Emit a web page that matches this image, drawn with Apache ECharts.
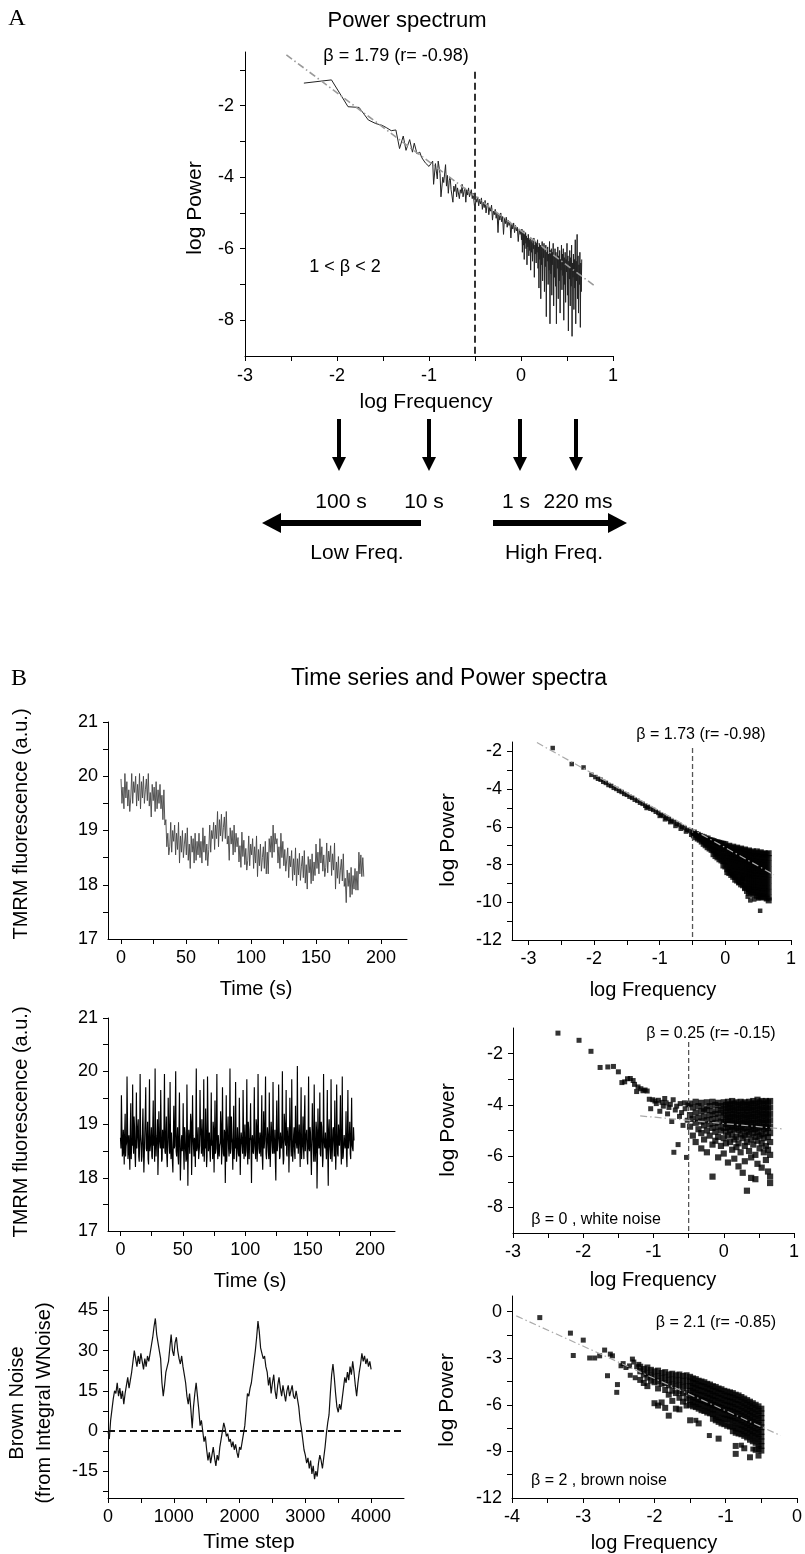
<!DOCTYPE html>
<html><head><meta charset="utf-8">
<script src="https://cdn.jsdelivr.net/npm/echarts@6/dist/echarts.min.js"></script>
<style>html,body{margin:0;padding:0;background:#fff}#c{width:805px;height:1554px}</style>
</head><body><div id="c"></div>
<script>
// ---------------- DATA ----------------
// Panel A: power spectrum [log frequency, log power]
const spectrumA = [[-2.36,-1.37],[-2.06,-1.28],[-1.88,-2.03],[-1.76,-2.05],[-1.66,-2.40],[-1.58,-2.50],[-1.51,-2.55],[-1.46,-2.62],[-1.41,-2.70],[-1.36,-2.68],[-1.32,-3.20],[-1.28,-2.85],[-1.25,-3.25],[-1.21,-2.95],[-1.18,-3.30],[-1.16,-3.05],[-1.13,-3.35],[-1.10,-3.30],[-1.08,-3.45],[-1.06,-3.50],[-1.04,-3.60],[-1.02,-3.62],[-1.00,-3.70],[-0.98,-3.75],[-0.96,-3.55],[-0.95,-4.20],[-0.93,-3.62],[-0.91,-4.05],[-0.90,-3.55],[-0.88,-3.90],[-0.87,-4.55],[-0.85,-4.00],[-0.84,-4.15],[-0.82,-3.65],[-0.81,-4.25],[-0.80,-3.95],[-0.79,-4.45],[-0.78,-4.10],[-0.77,-4.00],[-0.76,-4.35],[-0.74,-4.70],[-0.73,-4.25],[-0.72,-4.40],[-0.71,-4.20],[-0.70,-4.55],[-0.69,-4.30],[-0.68,-4.25],[-0.67,-4.60],[-0.66,-4.35],[-0.65,-4.45],[-0.64,-4.20],[-0.63,-4.55],[-0.62,-4.40],[-0.61,-4.30],[-0.60,-4.70],[-0.59,-4.35],[-0.58,-4.50],[-0.57,-4.30],[-0.56,-4.55],[-0.55,-4.45],[-0.54,-4.35],[-0.53,-4.60],[-0.52,-4.45],[-0.51,-4.50],[-0.50,-4.95],[-0.49,-4.60],[-0.48,-4.70],
[-0.47,-4.55],[-0.46,-4.80],[-0.45,-4.62],[-0.44,-4.75],[-0.43,-4.58],[-0.42,-4.90],[-0.41,-4.70],[-0.40,-4.85],[-0.39,-4.65],[-0.38,-5.00],[-0.37,-4.80],[-0.36,-4.72],[-0.35,-5.05],[-0.34,-4.85],[-0.33,-4.95],[-0.32,-4.78],[-0.31,-5.20],[-0.30,-4.95],[-0.29,-5.05],[-0.28,-4.90],[-0.27,-5.15],[-0.26,-5.00],[-0.25,-5.55],[-0.24,-5.05],[-0.23,-5.20],[-0.22,-5.00],[-0.21,-5.25],[-0.20,-5.10],[-0.19,-5.60],[-0.18,-5.15],[-0.17,-5.30],[-0.16,-5.12],[-0.15,-5.40],[-0.14,-5.20],[-0.13,-5.35],[-0.12,-5.25],[-0.11,-5.70],[-0.10,-5.30],[-0.09,-5.45],[-0.08,-5.28],[-0.07,-5.55],[-0.06,-5.35],[-0.05,-5.50],[-0.04,-5.40],[-0.03,-5.80],[-0.02,-5.45],[-0.01,-5.60],[0.00,-5.50],
[0.005,-5.75],[0.010,-5.45],[0.015,-6.10],[0.020,-5.55],[0.025,-5.90],[0.030,-5.50],[0.035,-6.30],[0.040,-5.60],[0.045,-5.85],[0.050,-5.55],[0.055,-6.00],[0.060,-5.65],[0.065,-6.45],[0.070,-5.70],[0.075,-5.95],[0.080,-5.60],[0.085,-6.20],[0.090,-5.75],[0.095,-6.05],[0.100,-5.70],[0.105,-6.60],[0.110,-5.80],[0.115,-6.10],[0.120,-5.75],[0.125,-6.35],[0.130,-5.85],[0.135,-6.00],[0.140,-5.70],[0.145,-6.80],[0.150,-5.90],[0.155,-6.15],[0.160,-5.80],[0.165,-6.40],[0.170,-5.85],[0.175,-6.10],[0.180,-5.75],[0.185,-6.55],[0.190,-5.95],[0.195,-7.10],[0.200,-5.85],[0.205,-6.30],[0.210,-5.90],[0.215,-7.40],[0.220,-5.95],[0.225,-6.45],[0.230,-5.80],[0.235,-6.90],[0.240,-6.00],[0.245,-6.25],[0.250,-5.85],[0.255,-7.20],[0.260,-6.05],[0.265,-6.50],[0.270,-5.90],[0.275,-7.90],[0.280,-6.10],[0.285,-6.35],[0.290,-5.95],[0.295,-7.00],[0.300,-6.15],[0.305,-6.60],[0.310,-5.80],[0.315,-8.10],[0.320,-6.05],[0.325,-6.70],[0.330,-6.00],[0.335,-7.30],[0.340,-6.10],[0.345,-6.45],[0.350,-5.85],[0.355,-7.60],[0.360,-6.20],[0.365,-6.80],[0.370,-6.00],[0.375,-7.05],[0.380,-6.10],[0.385,-8.10],[0.390,-6.25],[0.395,-6.55],[0.400,-5.95],[0.405,-7.40],[0.410,-6.20],[0.415,-6.90],[0.420,-6.05],[0.425,-7.80],[0.430,-6.30],[0.435,-6.60],[0.440,-5.90],[0.445,-7.15],[0.450,-6.15],[0.455,-6.75],[0.460,-6.00],[0.465,-8.00],[0.470,-6.25],[0.475,-7.00],[0.480,-6.10],[0.485,-7.50],[0.490,-6.30],[0.495,-6.65],[0.500,-5.85],[0.505,-7.30],[0.510,-6.20],[0.515,-8.30],[0.520,-6.35],[0.525,-6.85],[0.530,-6.05],[0.535,-7.60],[0.540,-6.25],[0.545,-7.05],[0.550,-5.90],[0.555,-8.45],[0.560,-6.40],[0.565,-6.80],[0.570,-6.15],[0.575,-7.70],[0.580,-6.30],[0.585,-7.10],[0.590,-5.75],[0.595,-8.10],[0.600,-6.35],[0.605,-6.90],[0.610,-5.60],[0.615,-7.40],[0.620,-6.20],[0.625,-7.80],[0.630,-6.45],[0.635,-7.00],[0.640,-6.10],[0.645,-8.20],[0.650,-6.40],[0.655,-7.20],[0.660,-6.30]];
const fitA = [[-2.55,-0.58],[0.79,-7.02]];
const cutA = [[-0.5,-1.05],[-0.5,-9]];

// Panel B, row 1: TMRM time series (one sample every 0.75 s) and its spectrum
const tmrmStepS = 0.75;
const tmrm1 = [19.95,19.50,19.80,19.40,20.05,19.60,19.90,19.45,19.75,19.35,19.60,20.05,19.50,19.90,19.70,20.00,19.45,19.85,19.55,20.05,19.40,19.90,19.60,20.00,19.50,19.75,19.95,19.55,20.05,19.45,19.70,19.25,19.85,19.55,19.80,19.35,19.90,19.40,19.75,19.50,19.85,19.40,19.65,19.20,19.75,19.10,19.20,18.70,18.95,18.55,18.70,19.15,18.60,19.00,18.80,19.10,18.55,18.95,18.65,19.15,18.40,18.90,18.60,19.00,18.50,18.75,18.95,18.55,19.05,18.45,18.75,18.30,18.90,18.60,18.85,18.40,18.95,18.45,18.80,18.55,18.95,18.50,18.80,18.40,19.05,18.60,18.90,18.45,18.75,18.35,18.65,19.10,18.60,19.00,18.85,19.15,18.65,19.10,18.85,19.35,18.70,19.20,18.90,19.30,18.80,19.05,19.25,18.85,19.35,18.75,18.90,18.45,19.05,18.75,19.00,18.55,19.10,18.60,18.95,18.70,18.87,18.42,18.72,18.32,18.97,18.52,18.82,18.37,18.67,18.27,18.45,18.90,18.35,18.75,18.55,18.85,18.30,18.70,18.40,18.90,18.15,18.65,18.35,18.75,18.25,18.50,18.70,18.30,18.80,18.20,18.60,18.20,18.85,18.60,18.90,18.50,19.10,18.60,18.95,18.75,18.85,18.40,18.70,18.30,18.95,18.50,18.80,18.35,18.65,18.25,18.23,18.68,18.13,18.53,18.33,18.63,18.08,18.48,18.18,18.68,17.98,18.48,18.18,18.58,18.08,18.33,18.53,18.13,18.63,18.03,18.37,17.92,18.52,18.22,18.47,18.02,18.57,18.07,18.42,18.17,18.75,18.30,18.60,18.20,18.85,18.40,18.70,18.25,18.55,18.15,18.32,18.77,18.22,18.62,18.42,18.72,18.17,18.57,18.27,18.77,17.92,18.42,18.12,18.52,18.02,18.27,18.47,18.07,18.57,17.97,18.12,17.67,18.27,17.97,18.22,17.77,18.32,17.82,18.17,17.92,18.30,17.90,18.25,17.90,18.60,18.20,18.55,18.15,18.50,18.15];
const specB2Pts = [[-2.63,-1.82],[-2.34,-2.67],[-2.16,-2.85],[-2.04,-3.24],[-1.98,-3.36],[-1.94,-3.45],[-1.90,-3.50],[-1.86,-3.61],[-1.82,-3.67],[-1.78,-3.78],[-1.74,-3.83],[-1.70,-3.93],[-1.66,-3.99],[-1.62,-4.09],[-1.58,-4.15],[-1.54,-4.25],[-1.50,-4.30],[-1.46,-4.40],[-1.42,-4.46],[-1.38,-4.56],[-1.34,-4.62],[-1.30,-4.72],[-1.26,-4.78],[-1.22,-4.88],[-1.18,-4.94],[-1.14,-5.04],[-1.10,-5.10],[-1.06,-5.20],[-1.02,-5.26],[-0.98,-5.36],[-0.94,-5.42],[-0.90,-5.52],[-0.86,-5.58],[-0.82,-5.68],[-0.78,-5.74],[-0.74,-5.84],[-0.70,-5.90],[-0.66,-6.00],[-0.62,-6.06],[-0.58,-6.16],[-0.54,-6.22],[-0.50,-6.30],[-1.20,-5.00],[-1.00,-5.42],[-0.92,-5.60],[-0.84,-5.75],[-0.76,-5.95],[-0.68,-6.10],[-0.60,-6.25],[-0.52,-6.42],[0.26,-8.75],[0.29,-9.25],[0.34,-9.70],[0.44,-9.85],[0.50,-9.80],[0.53,-10.45],[0.20,-8.95],[0.38,-9.90]];
// dense part, columns: [log frequency, log power values...]
const specB2Cols = [[-0.48,-6.30,-6.45],[-0.45,-6.38,-6.55],[-0.42,-6.42,-6.62],[-0.39,-6.48,-6.68],[-0.36,-6.52,-6.78],[-0.33,-6.55,-6.75,-6.90],[-0.30,-6.62,-6.82,-6.98],[-0.27,-6.62,-6.88,-7.08],[-0.24,-6.70,-6.92,-7.15],[-0.21,-6.72,-6.98,-7.22],[-0.18,-6.75,-7.00,-7.25,-7.45],[-0.15,-6.80,-7.05,-7.32,-7.55],[-0.12,-6.82,-7.08,-7.38,-7.62],[-0.09,-6.85,-7.12,-7.42,-7.72],[-0.06,-6.88,-7.18,-7.48,-7.78],[-0.03,-6.90,-7.20,-7.52,-7.82,-8.05],
[0.00,-6.92,-7.22,-7.52,-7.82,-8.10],[0.03,-7.05,-7.35,-7.65,-7.95,-8.25,-8.40],[0.06,-7.00,-7.25,-7.55,-7.85,-8.15,-8.45],[0.09,-7.12,-7.40,-7.70,-8.00,-8.30,-8.55],[0.12,-7.05,-7.30,-7.60,-7.90,-8.20,-8.50,-8.65],[0.15,-7.15,-7.45,-7.75,-8.05,-8.35,-8.65,-8.80],[0.18,-7.10,-7.35,-7.65,-7.95,-8.25,-8.55,-8.85],[0.21,-7.20,-7.50,-7.80,-8.10,-8.40,-8.70,-8.95],[0.24,-7.15,-7.40,-7.70,-8.00,-8.30,-8.60,-8.90,-9.05],[0.27,-7.25,-7.55,-7.85,-8.15,-8.45,-8.75,-9.10],[0.30,-7.20,-7.45,-7.75,-8.05,-8.35,-8.65,-8.95,-9.25],[0.33,-7.30,-7.60,-7.90,-8.20,-8.50,-8.80,-9.10,-9.40],[0.36,-7.25,-7.50,-7.80,-8.10,-8.40,-8.70,-9.00,-9.30,-9.50],[0.39,-7.35,-7.65,-7.95,-8.25,-8.55,-8.85,-9.15,-9.45],[0.42,-7.30,-7.55,-7.85,-8.15,-8.45,-8.75,-9.05,-9.35,-9.60],[0.45,-7.40,-7.70,-8.00,-8.30,-8.60,-8.90,-9.20,-9.50],[0.48,-7.30,-7.55,-7.85,-8.15,-8.45,-8.75,-9.05,-9.35,-9.65],[0.51,-7.40,-7.70,-8.00,-8.30,-8.60,-8.90,-9.20,-9.50,-9.70],[0.54,-7.35,-7.60,-7.90,-8.20,-8.50,-8.80,-9.10,-9.40,-9.70],[0.57,-7.45,-7.75,-8.05,-8.35,-8.65,-8.95,-9.25,-9.55,-9.75],[0.60,-7.40,-7.60,-7.90,-8.20,-8.50,-8.80,-9.10,-9.40,-9.70],[0.63,-7.45,-7.75,-8.05,-8.35,-8.65,-8.95,-9.25,-9.55,-9.80],[0.66,-7.40,-7.65,-7.95,-8.25,-8.55,-8.85,-9.15,-9.45,-9.75,-9.90]];
const fitB2 = [[-2.87,-1.53],[0.74,-8.54]];
const cutB2 = [[-0.5,-1.82],[-0.5,-12]];

// Panel B, row 2: white-noise TMRM series (samples every 0.75 s, plus the in-between samples) and its spectrum
const tmrm2 = [18.75,19.55,18.40,18.90,18.25,19.20,18.60,19.90,18.35,18.80,18.15,19.40,18.70,19.75,18.45,18.95,18.20,19.60,18.55,19.10,18.30,19.95,18.65,18.40,19.30,18.10,18.85,19.70,18.50,19.05,18.25,19.85,18.60,18.95,18.35,19.45,18.70,20.05,18.40,18.80,18.05,19.25,18.75,19.65,18.30,18.90,18.55,19.95,18.45,19.15,18.20,19.50,18.65,19.80,18.35,18.85,18.10,19.35,18.60,20.00,18.40,18.95,18.25,19.60,17.95,18.70,18.50,19.40,18.15,18.85,18.30,19.75,17.85,18.90,18.45,19.20,18.05,19.55,18.60,18.75,18.20,20.05,18.55,18.95,18.35,19.65,18.75,19.10,18.40,19.85,18.65,19.30,18.20,19.90,18.50,18.85,18.30,19.60,18.70,19.05,18.10,19.45,18.55,19.95,18.35,18.80,18.60,19.25,18.25,19.70,18.45,18.90,17.90,19.55,18.65,19.15,18.40,20.05,18.55,18.75,18.15,19.35,18.70,19.80,18.30,18.95,18.45,19.50,18.05,18.85,18.60,19.65,18.35,19.00,18.50,19.85,18.25,18.90,18.70,19.40,17.90,18.80,18.45,19.70,18.60,19.10,18.30,19.95,18.55,18.85,18.40,19.55,18.15,19.25,18.70,19.90,18.35,18.95,18.50,19.60,18.20,19.05,18.65,19.80,18.45,18.90,17.95,19.45,18.60,19.75,18.35,18.85,18.55,20.00,18.25,19.20,18.70,19.65,18.40,18.95,18.10,19.50,18.60,19.85,18.30,18.80,18.50,19.35,18.65,20.10,18.45,19.00,18.20,19.70,18.55,19.15,18.35,19.55,18.75,18.90,18.25,19.90,18.50,18.85,18.05,19.40,18.65,19.75,18.30,19.05,17.80,19.30,18.55,19.60,18.40,18.95,18.20,19.95,18.60,18.85,18.35,19.65,17.85,19.10,18.50,19.85,18.30,18.90,18.65,19.45,18.15,19.75,18.45,19.00,18.60,19.55,18.25,19.90,18.40,18.80,18.55,19.25,18.20,19.65,18.70,19.05,18.35,19.50,18.60,18.95];
const tmrm2Mid = [18.55,18.95,18.45,18.70,18.85,18.40,18.65,19.05,18.50,18.80,18.90,18.35,18.60,18.75,19.15,18.45,18.70,18.55,18.95,18.40,18.65,18.80,18.30,18.90,18.60,18.45,19.20,18.55,18.75,18.35,18.85,18.50,18.70,18.40,18.95,18.60,18.30,18.80,18.65,19.10,18.45,18.75,18.55,18.90,18.35,18.70,19.00,18.50,18.80,18.40,18.60,18.95,18.45,18.65,18.85,18.30,18.75,18.55,19.15,18.50,18.70,18.40,18.90,18.60,18.35,18.80,18.65,18.45,18.95,18.55,18.35,18.85,18.60,18.70,18.45,19.05,18.55,18.80,18.40,18.65,18.90,18.50,18.75,18.35,18.60,18.95,18.45,18.70,18.85,18.30,18.55,18.80,18.40,19.10,18.65,18.50,18.75,18.60,18.35,18.90,18.70,18.45,18.95,18.55,18.80,18.40,18.65,19.00,18.50,18.75,18.40,18.85,18.60,18.30,18.90,18.55,18.70,18.45,19.15,18.65,18.80,18.35,18.55,18.75,18.50,18.95,18.40,18.70,18.60,18.85,18.45,18.90,18.65,18.40,18.80,18.55,19.05,18.35,18.75,18.60,18.70,18.50,18.85,18.60,18.35,18.95,18.55,18.80,18.45,18.65,18.90,18.40,18.70,18.55,19.10,18.45,18.65,18.80,18.35,18.75,18.55,18.85,18.45,18.70,18.60,18.30,18.90,18.50,18.75,18.95,18.40,18.65,18.80,18.55,18.35,19.00,18.60,18.45,18.85,18.70,18.60,18.90,18.40,18.75,18.50,18.95,18.35,18.70,18.55,18.80,18.45,18.70,18.85,18.35,18.65,18.55,19.15,18.50,18.80,18.40,18.75,18.55,18.95,18.45,18.60,18.85,18.30,18.70,18.50,18.90,18.35,18.80,18.60,18.45,19.05,18.65,18.40,18.75,18.55,18.85,18.70,18.45,18.90,18.60,18.35,18.80,18.55,18.95,18.40,18.65,18.50,18.85,18.40,18.70,18.95,18.55,18.75,18.35,18.60,18.80,18.65,18.40,18.85,18.55,18.75,18.45,18.90,18.60,18.50,18.70];
const specB4Pts = [[-2.36,-1.20],[-2.06,-1.48],[-1.89,-1.91],[-1.76,-2.54],[-1.65,-2.52],[-1.57,-2.50],[-1.50,-2.71],[-1.45,-3.13],[-1.41,-3.10],[-1.37,-2.98],[-1.33,-2.97],[-1.29,-3.05],[-1.27,-3.20],[-1.24,-3.48],[-1.22,-3.30],[-1.18,-3.37],[-1.15,-3.45],[-1.12,-3.42],[-1.09,-3.46],[-1.06,-3.78],[-1.04,-4.15],[-1.01,-3.80],[-0.98,-3.85],[-0.96,-3.95],[-0.93,-3.82],[-0.91,-4.25],[-0.88,-3.90],[-0.86,-4.05],[-0.84,-3.75],[-0.82,-3.92],[-0.80,-4.35],[-0.78,-4.10],[-0.76,-3.98],[-0.74,-4.65],[-0.72,-3.80],[-0.71,-5.85],[-0.69,-4.20],[-0.67,-4.05],[-0.65,-5.55],[-0.63,-4.45],[-0.62,-3.95],[-0.60,-4.30],[-0.58,-4.80],[-0.56,-3.92],[-0.55,-4.15],[-0.53,-6.05],[-0.52,-4.60],[-0.51,-4.00]];
const specB4Cols = [[-0.48,-3.95,-4.40,-4.85],[-0.44,-4.10,-4.55,-5.20],[-0.40,-3.88,-4.30,-4.70,-5.45],[-0.36,-4.05,-4.50,-4.95],[-0.32,-3.92,-4.25,-4.65,-5.10,-5.70],[-0.28,-4.15,-4.45,-4.80,-5.35],[-0.24,-3.90,-4.20,-4.60,-5.00,-5.85],[-0.20,-4.05,-4.40,-4.75,-5.20],[-0.16,-3.88,-4.25,-4.55,-4.90,-5.55,-6.80],[-0.12,-4.00,-4.35,-4.70,-5.05,-5.40],[-0.08,-3.92,-4.20,-4.50,-4.85,-5.25,-6.05],[-0.04,-4.05,-4.30,-4.65,-5.00,-5.60],
[0.00,-3.90,-4.15,-4.40,-4.65,-4.90,-5.30,-5.90],[0.03,-4.00,-4.25,-4.50,-4.75,-5.05,-5.50],[0.06,-3.88,-4.12,-4.38,-4.62,-4.88,-5.20,-6.25],[0.09,-3.98,-4.22,-4.48,-4.72,-4.98,-5.45],[0.12,-3.85,-4.10,-4.35,-4.60,-4.85,-5.15,-5.75],[0.15,-3.95,-4.20,-4.45,-4.70,-4.95,-5.35,-6.10],[0.18,-3.90,-4.15,-4.40,-4.65,-4.90,-5.25,-5.65],[0.21,-4.00,-4.25,-4.50,-4.75,-5.00,-5.50,-6.40],[0.24,-3.88,-4.12,-4.38,-4.62,-4.88,-5.15,-5.85],[0.27,-3.95,-4.20,-4.45,-4.70,-4.95,-5.30,-6.65],[0.30,-3.90,-4.15,-4.40,-4.65,-4.90,-5.20,-5.60,-6.20],[0.33,-4.00,-4.25,-4.50,-4.75,-5.05,-5.45,-7.35],[0.36,-3.88,-4.12,-4.38,-4.62,-4.88,-5.15,-5.80],[0.39,-3.95,-4.20,-4.45,-4.70,-4.95,-5.35,-6.05,-6.85],[0.42,-3.85,-4.10,-4.35,-4.60,-4.85,-5.10,-5.55],[0.45,-3.95,-4.20,-4.45,-4.70,-4.95,-5.25,-5.95,-6.90],[0.48,-3.80,-4.05,-4.30,-4.55,-4.80,-5.05,-5.40,-6.30],[0.51,-3.90,-4.15,-4.40,-4.65,-4.90,-5.20,-5.70],[0.54,-3.85,-4.10,-4.35,-4.60,-4.85,-5.15,-5.50,-6.45],[0.57,-3.95,-4.20,-4.45,-4.70,-4.95,-5.30,-5.85],[0.60,-3.85,-4.10,-4.35,-4.60,-4.85,-5.10,-5.60,-6.15],[0.63,-3.90,-4.15,-4.40,-4.65,-4.90,-5.25,-5.75,-6.60],[0.66,-3.85,-4.10,-4.35,-4.60,-4.85,-5.10,-5.45,-5.95,-6.80,-7.05]];
const fitB4 = [[-1.19,-4.43],[0.85,-4.94]];
const cutB4 = [[-0.5,-1.55],[-0.5,-9]];

// Panel B, row 3: brown noise (one value every 20 time steps) and its spectrum
const brownStep = 20;
const brown = [0,-3,4,8,12,15,14,18,13,16,12,15,10,14,17,20,16,19,22,26,30,27,24,28,25,29,26,23,27,24,28,26,29,32,35,39,42,36,33,30,27,18,13,17,22,24,26,31,36,30,28,33,35,30,27,25,28,24,21,18,13,10,14,8,1,9,14,18,13,8,2,4,0,-4,-2,-7,-11,-8,-12,-9,-6,-10,-13,-9,-11,-6,-3,0,3,1,-2,-1,-4,-3,-6,-4,-7,-5,-8,-10,-6,-7,-4,-1,2,8,14,13,16,18,22,26,30,35,41,37,31,29,27,28,24,22,17,20,14,18,21,15,12,17,20,16,13,17,14,11,15,17,13,15,17,13,12,15,12,9,4,1,-3,-7,-9,-12,-10,-14,-11,-16,-13,-18,-15,-17,-12,-9,-11,-14,-10,-6,-1,3,6,14,21,25,20,14,9,7,10,8,12,16,20,18,22,19,24,21,26,22,17,13,18,22,25,29,26,28,25,27,24,26,23];
const zeroB5 = [[0,0],[4460,0]];
const specB6Pts = [[-3.61,-0.39],[-3.18,-1.39],[-3.14,-2.83],[-3.00,-1.84],[-2.91,-2.99],[-2.84,-2.99],[-2.77,-2.85],[-2.70,-2.48],[-2.66,-4.13],[-2.62,-2.74],[-2.59,-2.85],[-2.52,-4.70],[-2.53,-5.20],[-2.47,-3.49],[-2.44,-3.35],[-2.40,-3.60],[-2.35,-3.50],[-2.31,-3.06],[-2.29,-3.25],[-2.27,-4.26],[-2.34,-4.10],[-2.25,-3.55],[-2.22,-3.40],[-1.42,-7.00],[-1.23,-7.98],[-0.78,-8.60],[-0.62,-8.85]];
const specB6Cols = [[-2.20,-3.55,-3.85,-4.40],[-2.15,-3.70,-4.05,-4.60],[-2.10,-3.60,-3.95,-4.25,-4.80],[-2.05,-3.75,-4.10,-4.45],[-2.00,-3.85,-4.20,-4.55,-5.90],[-1.95,-3.80,-4.15,-4.50,-4.95,-6.05],[-1.90,-3.95,-4.30,-4.65,-5.85],[-1.85,-3.90,-4.25,-4.60,-5.05,-6.20],[-1.80,-4.05,-4.40,-4.75,-5.35,-6.70],[-1.75,-4.00,-4.35,-4.70,-5.10,-5.75],[-1.70,-4.10,-4.45,-4.80,-5.25,-6.25],[-1.65,-4.05,-4.40,-4.75,-5.15,-5.55,-6.30],[-1.60,-4.15,-4.50,-4.85,-5.25,-5.80],[-1.55,-4.10,-4.45,-4.80,-5.20,-5.60,-6.05],
[-1.50,-4.20,-4.50,-4.80,-5.10,-5.40,-5.70,-6.00,-7.00],[-1.46,-4.30,-4.60,-4.90,-5.20,-5.50,-5.80,-6.10],[-1.42,-4.35,-4.65,-4.95,-5.25,-5.55,-5.85,-6.15],[-1.38,-4.45,-4.75,-5.05,-5.35,-5.65,-5.95,-6.25,-7.20],[-1.34,-4.50,-4.80,-5.10,-5.40,-5.70,-6.00,-6.35],[-1.30,-4.55,-4.85,-5.15,-5.45,-5.75,-6.05,-6.40],[-1.26,-4.65,-4.95,-5.25,-5.55,-5.85,-6.15,-6.50],[-1.22,-4.70,-5.00,-5.30,-5.60,-5.90,-6.20,-6.55],[-1.18,-4.80,-5.10,-5.40,-5.70,-6.00,-6.30,-6.60,-6.90],[-1.14,-4.85,-5.15,-5.45,-5.75,-6.05,-6.35,-6.70,-7.00],[-1.10,-4.95,-5.25,-5.55,-5.85,-6.15,-6.45,-6.80,-7.10,-8.18],[-1.06,-5.00,-5.30,-5.60,-5.90,-6.20,-6.50,-6.85,-7.20],[-1.02,-5.10,-5.40,-5.70,-6.00,-6.30,-6.60,-6.90,-7.25],[-0.98,-5.15,-5.45,-5.75,-6.05,-6.35,-6.65,-6.95,-7.35],[-0.94,-5.20,-5.50,-5.80,-6.10,-6.40,-6.70,-7.00,-7.40],[-0.90,-5.25,-5.55,-5.85,-6.15,-6.45,-6.75,-7.05,-7.40,-7.70],[-0.86,-5.35,-5.65,-5.95,-6.25,-6.55,-6.85,-7.15,-7.50,-7.80,-8.65,-9.16],[-0.82,-5.40,-5.70,-6.00,-6.30,-6.60,-6.90,-7.20,-7.55,-7.85],[-0.78,-5.50,-5.80,-6.10,-6.40,-6.70,-7.00,-7.30,-7.60,-7.90],[-0.74,-5.60,-5.90,-6.20,-6.50,-6.80,-7.10,-7.40,-7.70,-8.00,-8.80],[-0.70,-5.70,-6.00,-6.30,-6.60,-6.90,-7.20,-7.50,-7.80,-8.10],[-0.66,-5.80,-6.10,-6.40,-6.70,-7.00,-7.30,-7.60,-7.90,-8.25,-9.38],[-0.62,-5.90,-6.20,-6.50,-6.80,-7.10,-7.40,-7.70,-8.00,-8.35],[-0.58,-6.00,-6.30,-6.60,-6.90,-7.20,-7.50,-7.80,-8.10,-8.45,-8.90],[-0.54,-6.10,-6.40,-6.70,-7.00,-7.30,-7.60,-7.90,-8.20,-8.55,-8.85,-9.27],[-0.50,-6.25,-6.55,-6.85,-7.15,-7.45,-7.75,-8.05,-8.35,-8.65,-8.95]];
const fitB6 = [[-3.94,-0.28],[-0.23,-7.98]];

// Tick positions and tick labels
const ticksA_x = [-3,-2.5,-2,-1.5,-1,-0.5,0,0.5,1], labelsA_x = [-3,-2,-1,0,1];
const ticksA_y = [-8,-7,-6,-5,-4,-3,-2,-1], labelsA_y = [-8,-6,-4,-2];
const ticksT_x = [0,25,50,75,100,125,150,175,200], labelsT_x = [0,50,100,150,200];
const ticksT_y = [17.5,18,18.5,19,19.5,20,20.5,21], labelsT_y = [17,18,19,20,21];
const ticksB2_x = [-3,-2.5,-2,-1.5,-1,-0.5,0,0.5,1], labelsB2_x = [-3,-2,-1,0,1];
const ticksB2_y = [-11,-10,-9,-8,-7,-6,-5,-4,-3,-2], labelsB2_y = [-12,-10,-8,-6,-4,-2];
const ticksB4_y = [-8,-7,-6,-5,-4,-3,-2], labelsB4_y = [-8,-6,-4,-2];
const ticksB5_x = [0,500,1000,1500,2000,2500,3000,3500,4000], labelsB5_x = [0,1000,2000,3000,4000];
const ticksB5_y = [-22.5,-15,-7.5,0,7.5,15,22.5,30,37.5,45], labelsB5_y = [-15,0,15,30,45];
const ticksB6_x = [-4,-3.5,-3,-2.5,-2,-1.5,-1,-0.5,0], labelsB6_x = [-4,-3,-2,-1,0];
const ticksB6_y = [-10.5,-9,-7.5,-6,-4.5,-3,-1.5,0], labelsB6_y = [-12,-9,-6,-3,0];

// ---------------- CHART ----------------
const FONT = '"Liberation Sans", Arial, sans-serif';
function cols(c){const o=[];c.forEach(r=>{for(let i=1;i<r.length;i++)o.push([r[0],r[i]]);});return o;}
function series(v, step){return v.map((y,i)=>[i*step,y]);}
function series2(v, mid, step){const o=[];v.forEach((y,i)=>{o.push([i*step,y]);if(i<mid.length)o.push([i*step+step/2,mid[i]]);});return o;}
function ax(gi, min, max, ticks, labels, margin){
  return {type:'value', gridIndex:gi, min:min, max:max, scale:false,
    axisLine:{show:true,onZero:false,lineStyle:{color:'#000',width:1}},
    axisTick:{show:true,customValues:ticks,length:5,lineStyle:{color:'#000',width:1}},
    axisLabel:{customValues:labels,fontSize:18,color:'#000',fontFamily:FONT,margin:margin,
      formatter:function(v){return String(v);}},
    splitLine:{show:false}};
}
const grids = [
  {left:245, top:52, width:368, height:304},
  {left:108, top:722, width:299, height:217},
  {left:512, top:742, width:279, height:198},
  {left:108, top:1018, width:287, height:213},
  {left:513, top:1028, width:281, height:205},
  {left:108, top:1297, width:296, height:201},
  {left:512, top:1296, width:286, height:202}
];
const xAxes = [
  ax(0,-3,1,ticksA_x,labelsA_x,11),
  ax(1,-10,220,ticksT_x,labelsT_x,10),
  ax(2,-3.25,1,ticksB2_x,labelsB2_x,10),
  ax(3,-10,220,ticksT_x,labelsT_x,10),
  ax(4,-3,1,ticksA_x,labelsA_x,10),
  ax(5,0,4500,ticksB5_x,labelsB5_x,10),
  ax(6,-4,0,ticksB6_x,labelsB6_x,10)
];
const yAxes = [
  ax(0,-9,-0.5,ticksA_y,labelsA_y,11),
  ax(1,17,21,ticksT_y,labelsT_y,10),
  ax(2,-12,-1.5,ticksB2_y,labelsB2_y,10),
  ax(3,17,21,ticksT_y,labelsT_y,10),
  ax(4,-9,-1,ticksB4_y,labelsB4_y,10),
  ax(5,-25,50,ticksB5_y,labelsB5_y,10),
  ax(6,-12,1,ticksB6_y,labelsB6_y,10)
];
function line(gi, data, color, width, type, z){
  return {type:'line', xAxisIndex:gi, yAxisIndex:gi, data:data, symbol:'none', showSymbol:false,
    lineStyle:{color:color,width:width,type:type||'solid'}, z:z||2, silent:true, clip:true};
}
function scat(gi, data, size){
  return {type:'scatter', xAxisIndex:gi, yAxisIndex:gi, data:data, symbol:'rect', symbolSize:size,
    itemStyle:{color:'#000'}, silent:true, z:2};
}
const dashDot = [7,3,1.5,3];
const seriesList = [
  line(0, spectrumA, '#222', 1),
  line(0, fitA, '#9a9a9a', 1.6, dashDot, 3),
  line(0, cutA, '#333', 2, [7,4], 4),
  line(1, series(tmrm1, tmrmStepS), '#444', 0.9),
  scat(2, specB2Pts, 4.5),
  scat(2, cols(specB2Cols), 6),
  line(2, fitB2, '#aaa', 1.2, dashDot, 3),
  line(2, cutB2, '#555', 1.3, [5,3], 4),
  line(3, series2(tmrm2, tmrm2Mid, tmrmStepS), '#000', 1.15),
  scat(4, specB4Pts, 5),
  scat(4, cols(specB4Cols), 6.2),
  line(4, fitB4, '#aaa', 1.2, dashDot, 3),
  line(4, cutB4, '#555', 1.3, [5,3], 4),
  line(5, series(brown, brownStep), '#111', 1.2),
  line(5, zeroB5, '#111', 1.8, [7,4], 3),
  scat(6, specB6Pts, 5),
  scat(6, cols(specB6Cols), 6),
  line(6, fitB6, '#aaa', 1.2, dashDot, 3)
];
function txt(x, y, s, size, opts){
  opts = opts || {};
  return {type:'text', x:x, y:y, rotation:opts.rot||0, silent:true, z:10,
    style:{text:s, fontSize:size, fontFamily:opts.family||FONT, fill:'#000',
      align:'center', verticalAlign:'middle', textAlign:'center', textVerticalAlign:'middle',
      lineHeight:opts.lh||undefined}};
}
const R = Math.PI/2, SERIF = '"Liberation Serif", "Times New Roman", serif';
function downArrow(cx){
  return [
    {type:'rect', shape:{x:cx-2, y:419, width:4, height:40}, style:{fill:'#000'}, silent:true},
    {type:'polygon', shape:{points:[[cx-7,457],[cx+7,457],[cx,471]]}, style:{fill:'#000'}, silent:true}
  ];
}
const graphics = [
  txt(17,19,'A',24,{family:SERIF}),
  txt(407,21,'Power spectrum',22),
  txt(396,56,'β = 1.79 (r= -0.98)',18),
  txt(345,267,'1 < β < 2',18),
  txt(195,208,'log Power',21,{rot:R}),
  txt(426,402,'log Frequency',21),
  ...downArrow(339), ...downArrow(429), ...downArrow(520), ...downArrow(576),
  txt(341,502,'100 s',21), txt(424,502,'10 s',21), txt(516,502,'1 s',21), txt(578,502,'220 ms',21),
  {type:'rect', shape:{x:280, y:520, width:141, height:6}, style:{fill:'#000'}, silent:true},
  {type:'polygon', shape:{points:[[262,523],[281,513],[281,533]]}, style:{fill:'#000'}, silent:true},
  {type:'rect', shape:{x:493, y:520, width:116, height:6}, style:{fill:'#000'}, silent:true},
  {type:'polygon', shape:{points:[[627,523],[608,513],[608,533]]}, style:{fill:'#000'}, silent:true},
  txt(357,553,'Low Freq.',21), txt(554,553,'High Freq.',21),
  txt(19,679,'B',24,{family:SERIF}),
  txt(449,679,'Time series and Power spectra',23),
  txt(21,824,'TMRM fluorescence (a.u.)',20,{rot:R}),
  txt(256,989,'Time (s)',20),
  txt(448,840,'log Power',21,{rot:R}),
  txt(653,990,'log Frequency',20),
  txt(701,735,'β = 1.73 (r= -0.98)',16),
  txt(21,1122,'TMRM fluorescence (a.u.)',20,{rot:R}),
  txt(250,1281,'Time (s)',20),
  txt(448,1130,'log Power',21,{rot:R}),
  txt(653,1280,'log Frequency',20),
  txt(711,1034,'β = 0.25 (r= -0.15)',16),
  txt(596,1220,'β = 0 , white noise',16),
  txt(31,1403,'Brown Noise\n(from Integral WNoise)',20,{rot:R,lh:27}),
  txt(249,1542,'Time step',21),
  txt(447,1400,'log Power',21,{rot:R}),
  txt(654,1543,'log Frequency',20),
  txt(716,1323,'β = 2.1 (r= -0.85)',16),
  txt(599,1481,'β = 2 , brown noise',16)
];
const chart = echarts.init(document.getElementById('c'), null, {renderer:'canvas'});
chart.setOption({
  animation:false, backgroundColor:'#fff',
  grid:grids, xAxis:xAxes, yAxis:yAxes, series:seriesList, graphic:graphics
});
</script></body></html>
